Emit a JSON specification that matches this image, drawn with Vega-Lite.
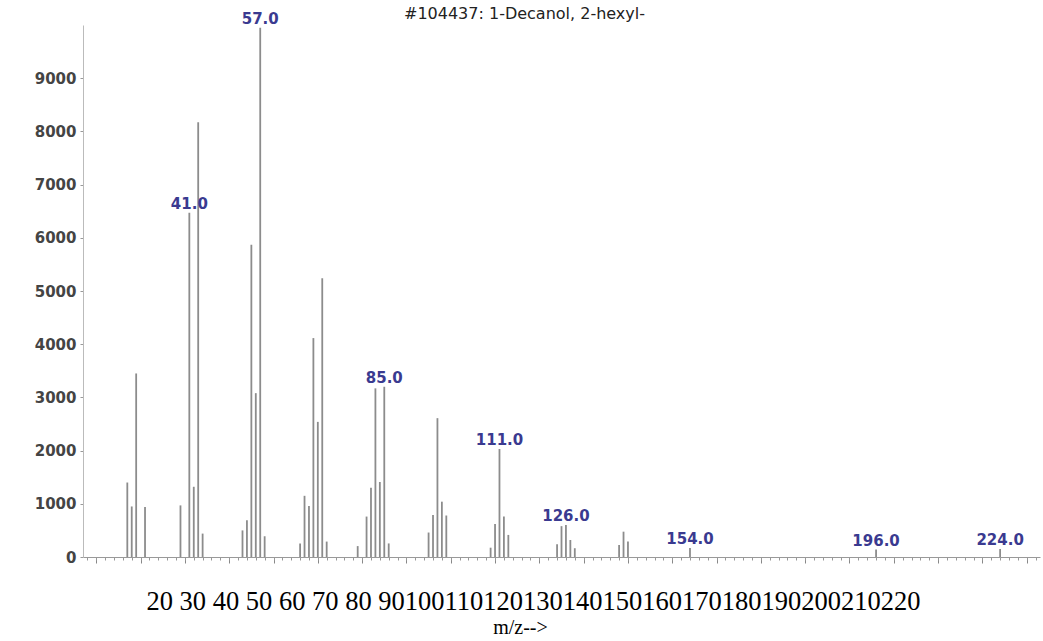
{
  "$schema": "https://vega.github.io/schema/vega-lite/v6.json",
  "width": 957,
  "height": 532,
  "autosize": {"type": "none"},
  "padding": {"left": 83, "top": 25, "right": 3, "bottom": 84},
  "background": "white",
  "title": {
    "text": "#104437: 1-Decanol, 2-hexyl-",
    "font": "DejaVu Sans",
    "fontSize": 16,
    "fontWeight": "normal",
    "color": "#222222",
    "anchor": "middle",
    "dx": -37,
    "offset": -10
  },
  "data": {
    "values": [
      {"mz": 27, "intensity": 1400},
      {"mz": 28, "intensity": 950},
      {"mz": 29, "intensity": 3450},
      {"mz": 31, "intensity": 940},
      {"mz": 39, "intensity": 970},
      {"mz": 41, "intensity": 6470, "label": "41.0"},
      {"mz": 42, "intensity": 1320},
      {"mz": 43, "intensity": 8170},
      {"mz": 44, "intensity": 440},
      {"mz": 53, "intensity": 500},
      {"mz": 54, "intensity": 690},
      {"mz": 55, "intensity": 5870},
      {"mz": 56, "intensity": 3080},
      {"mz": 57, "intensity": 9950, "label": "57.0"},
      {"mz": 58, "intensity": 390},
      {"mz": 66, "intensity": 255},
      {"mz": 67, "intensity": 1150},
      {"mz": 68, "intensity": 960},
      {"mz": 69, "intensity": 4115},
      {"mz": 70, "intensity": 2540},
      {"mz": 71, "intensity": 5240},
      {"mz": 72, "intensity": 290},
      {"mz": 79, "intensity": 205},
      {"mz": 81, "intensity": 760},
      {"mz": 82, "intensity": 1300},
      {"mz": 83, "intensity": 3170},
      {"mz": 84, "intensity": 1410},
      {"mz": 85, "intensity": 3200, "label": "85.0"},
      {"mz": 86, "intensity": 255},
      {"mz": 95, "intensity": 460},
      {"mz": 96, "intensity": 790},
      {"mz": 97, "intensity": 2610},
      {"mz": 98, "intensity": 1040},
      {"mz": 99, "intensity": 780},
      {"mz": 109, "intensity": 175},
      {"mz": 110, "intensity": 620},
      {"mz": 111, "intensity": 2030, "label": "111.0"},
      {"mz": 112, "intensity": 760},
      {"mz": 113, "intensity": 415},
      {"mz": 124, "intensity": 240},
      {"mz": 125, "intensity": 580},
      {"mz": 126, "intensity": 600, "label": "126.0"},
      {"mz": 127, "intensity": 320},
      {"mz": 128, "intensity": 165},
      {"mz": 138, "intensity": 225},
      {"mz": 139, "intensity": 476},
      {"mz": 140, "intensity": 290},
      {"mz": 154, "intensity": 170, "label": "154.0"},
      {"mz": 196, "intensity": 140, "label": "196.0"},
      {"mz": 224, "intensity": 150, "label": "224.0"}
    ]
  },
  "layer": [
    {
      "mark": {"type": "rule", "color": "#8c8c8c", "strokeWidth": 1.8},
      "encoding": {
        "x": {
          "field": "mz",
          "type": "quantitative",
          "scale": {"domain": [17, 233], "nice": false, "zero": false},
          "axis": {
            "orient": "bottom",
            "values": [20, 30, 40, 50, 60, 70, 80, 90, 100, 110, 120, 130, 140, 150, 160, 170, 180, 190, 200, 210, 220, 230],
            "labels": false,
            "grid": false,
            "tickSize": 6,
            "tickColor": "#888888",
            "domainColor": "#999999",
            "title": "20 30 40 50 60 70 80 90100110120130140150160170180190200210220",
            "titleFont": "Liberation Serif",
            "titleFontSize": 26.5,
            "titleFontWeight": "normal",
            "titleColor": "#000000",
            "titleAlign": "center",
            "titleBaseline": "middle",
            "titleX": 450,
            "titleY": 44
          }
        },
        "y": {
          "field": "intensity",
          "type": "quantitative",
          "scale": {"domain": [0, 10000], "nice": false},
          "axis": {
            "values": [0, 500, 1000, 1500, 2000, 2500, 3000, 3500, 4000, 4500, 5000, 5500, 6000, 6500, 7000, 7500, 8000, 8500, 9000, 9500],
            "format": "d",
            "grid": false,
            "title": null,
            "labelFont": "DejaVu Sans",
            "labelFontSize": 15,
            "labelFontWeight": "bold",
            "labelColor": "#444444",
            "labelPadding": 4,
            "tickSize": 3,
            "tickColor": "#999999",
            "domainColor": "#bbbbbb"
          }
        },
        "y2": {"datum": 0}
      }
    },
    {
      "transform": [{"filter": "datum.label != null"}],
      "mark": {"type": "text", "font": "DejaVu Sans", "fontSize": 15, "fontWeight": "bold", "color": "#3a3a90", "baseline": "middle", "align": "center", "dy": -9},
      "encoding": {
        "x": {
          "field": "mz",
          "type": "quantitative",
          "scale": {"domain": [17, 233], "nice": false, "zero": false},
          "axis": {
            "orient": "bottom",
            "values": [18, 20, 22, 24, 26, 28, 30, 32, 34, 36, 38, 40, 42, 44, 46, 48, 50, 52, 54, 56, 58, 60, 62, 64, 66, 68, 70, 72, 74, 76, 78, 80, 82, 84, 86, 88, 90, 92, 94, 96, 98, 100, 102, 104, 106, 108, 110, 112, 114, 116, 118, 120, 122, 124, 126, 128, 130, 132, 134, 136, 138, 140, 142, 144, 146, 148, 150, 152, 154, 156, 158, 160, 162, 164, 166, 168, 170, 172, 174, 176, 178, 180, 182, 184, 186, 188, 190, 192, 194, 196, 198, 200, 202, 204, 206, 208, 210, 212, 214, 216, 218, 220, 222, 224, 226, 228, 230, 232],
            "labels": false,
            "grid": false,
            "domain": false,
            "tickSize": 3,
            "tickColor": "#999999",
            "title": "m/z-->",
            "titleFont": "Liberation Serif",
            "titleFontSize": 20,
            "titleFontWeight": "normal",
            "titleColor": "#000000",
            "titleAlign": "center",
            "titleBaseline": "middle",
            "titleX": 437,
            "titleY": 70
          }
        },
        "y": {
          "field": "intensity",
          "type": "quantitative",
          "scale": {"domain": [0, 10000], "nice": false}
        },
        "text": {"field": "label", "type": "nominal"}
      }
    }
  ],
  "resolve": {"axis": {"x": "independent"}},
  "config": {"view": {"stroke": null}}
}
